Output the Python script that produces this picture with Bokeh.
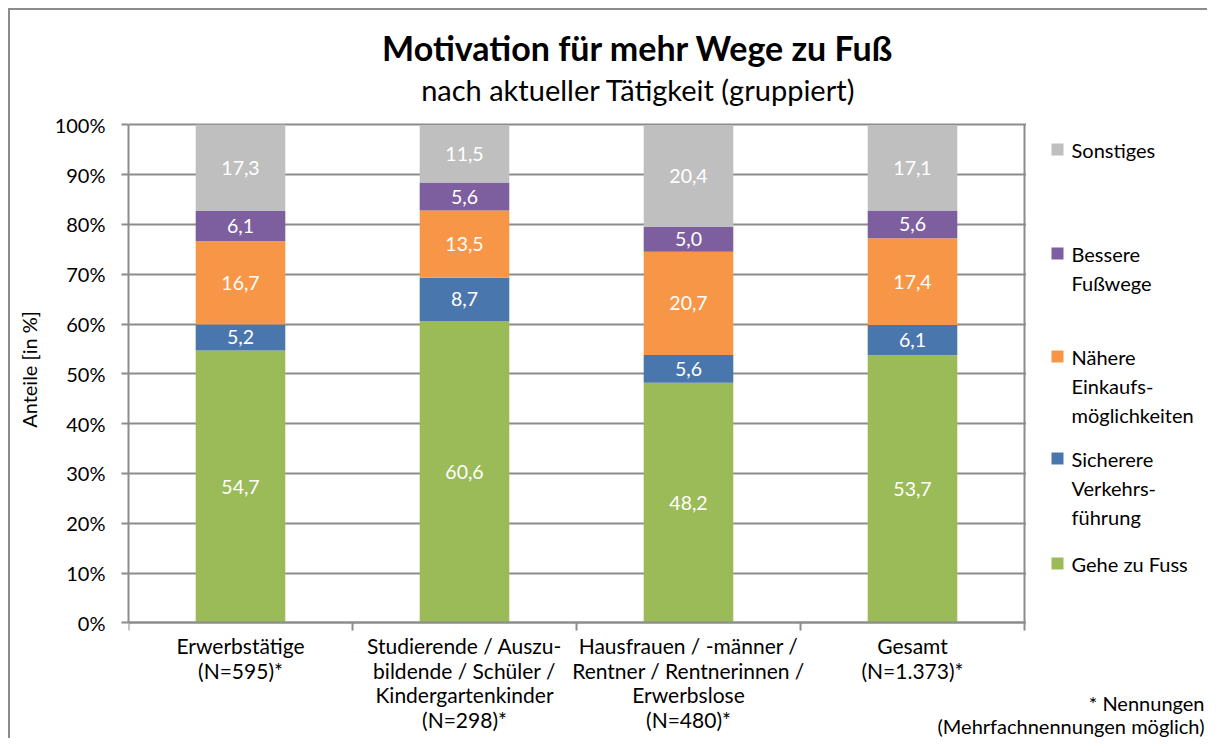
from bokeh.plotting import figure
from bokeh.models import (Range1d, FixedTicker, LinearAxis, Label, BoxAnnotation,
                          ColumnDataSource)
from bokeh.core.properties import value
from bokeh.embed import file_html
from bokeh.resources import INLINE

# ---------------- data ----------------
categories = ["Erwerbstätige", "Studierende", "Hausfrauen", "Gesamt"]
category_labels = [
    "Erwerbstätige\n(N=595)*",
    "Studierende / Auszu-\nbildende / Schüler /\nKindergartenkinder\n(N=298)*",
    "Hausfrauen / -männer /\nRentner / Rentnerinnen /\nErwerbslose\n(N=480)*",
    "Gesamt\n(N=1.373)*",
]
series_keys = ["gehe", "sicherere", "naehere", "bessere", "sonstiges"]
legend_labels = ["Gehe zu Fuss", "Sicherere\nVerkehrs-\nführung",
                 "Nähere\nEinkaufs-\nmöglichkeiten", "Bessere\nFußwege", "Sonstiges"]
gehe = [54.7, 60.6, 48.2, 53.7]
sicherere = [5.2, 8.7, 5.6, 6.1]
naehere = [16.7, 13.5, 20.7, 17.4]
bessere = [6.1, 5.6, 5.0, 5.6]
sonstiges = [17.3, 11.5, 20.4, 17.1]
y_ticks = [0, 10, 20, 30, 40, 50, 60, 70, 80, 90, 100]
y_tick_labels = ["0%", "10%", "20%", "30%", "40%", "50%", "60%", "70%", "80%", "90%", "100%"]
title_text = "Motivation für mehr Wege zu Fuß"
subtitle_text = "nach aktueller Tätigkeit (gruppiert)"
y_label = "Anteile [in %]"
footnote_1 = "* Nennungen"
footnote_2 = "(Mehrfachnennungen möglich)"

colors = ["#9bbb59", "#4a76ae", "#f79646", "#7d5fa0", "#bfbfbf"]
FONT = "Lato"
GREY = "#8c8c8c"

# ---------------- geometry (pixels) ----------------
W, H = 1207, 738
FL = 128.0      # frame left (y axis)
XU = 224.0      # pixels per category
Y0 = 622.3      # pixel row of 0 %
YU = 4.98       # pixels per percent


def X(px):
    return (px - FL) / XU


def Y(py):
    return (Y0 - py) / YU


n = len(categories)
centres = [i + 0.5 for i in range(n)]
bounds = [float(i) for i in range(n + 1)]

values = [gehe, sicherere, naehere, bessere, sonstiges]
data = {"x": centres, "cat": categories}
for k, v in zip(series_keys, values):
    data[k] = v
source = ColumnDataSource(data)

p = figure(x_range=Range1d(0, X(W)), y_range=Range1d(Y(H), Y(0)),
           width=W, height=H, output_backend="svg", toolbar_location=None,
           min_border=0, min_border_left=int(FL), min_border_right=0,
           min_border_top=0, min_border_bottom=0)
p.title.visible = False
p.border_fill_color = None
p.background_fill_color = None
p.outline_line_color = None
p.styles = {"background": "white",
            "box-shadow": "inset 8px 8px 0 0 white, inset 10px 10px 0 0 #8c8c8c"}

# grid (drawn first) and a cover so that grid lines stop at the plot area
yt = FixedTicker(ticks=y_ticks)
p.ygrid.ticker = yt
p.ygrid.grid_line_color = GREY
p.ygrid.grid_line_width = 2
p.xgrid.grid_line_color = None
p.add_layout(BoxAnnotation(left=X(1025.5), bottom=-1.5, top=101.5,
                           fill_color="white", fill_alpha=1.0,
                           line_color=None, level="underlay"))

renderers = p.vbar_stack(series_keys, x="x", width=0.4, fill_color=colors,
                         line_color=None, source=source)

# data labels
cum = [0.0] * n
for k, v in zip(series_keys, values):
    mids = [c + x / 2 for c, x in zip(cum, v)]
    cum = [c + x for c, x in zip(cum, v)]
    lbl = [f"{x:.1f}".replace(".", ",") for x in v]
    s = ColumnDataSource({"x": centres, "mid": mids, "lbl": lbl})
    p.text(x="x", y="mid", text="lbl", source=s, text_color="white",
           text_font=value(FONT), text_font_size="19.5px",
           text_align="center", text_baseline="middle")

# y axis
ya = p.yaxis[0]
ya.ticker = yt
ya.bounds = (0, 100)
ya.major_label_overrides = dict(zip(y_ticks, y_tick_labels))
ya.minor_tick_line_color = None
ya.major_tick_in = 0
ya.major_tick_out = 7
ya.major_tick_line_color = GREY
ya.major_tick_line_width = 2
ya.axis_line_color = GREY
ya.axis_line_width = 2
ya.major_label_standoff = 16
ya.major_label_text_font = FONT
ya.major_label_text_font_size = "20px"
ya.major_label_text_color = "black"
ya.axis_label = y_label
ya.axis_label_text_font = FONT
ya.axis_label_text_font_size = "20px"
ya.axis_label_text_font_style = "normal"
ya.axis_label_text_color = "black"
ya.axis_label_standoff = 11

# right border of the plot area
ra = LinearAxis(fixed_location=n, bounds=(0, 100), ticker=FixedTicker(ticks=[]),
                axis_line_color=GREY, axis_line_width=2,
                major_tick_line_color=None, minor_tick_line_color=None,
                major_label_text_font_size="0px")
p.add_layout(ra, "right")

# x axis at 0 %: labels at category centres, tick marks at category boundaries
xa = p.xaxis[0]
xa.fixed_location = 0
xa.bounds = (0, n)
xa.ticker = FixedTicker(ticks=centres, minor_ticks=bounds)
xa.major_label_overrides = dict(zip(centres, category_labels))
xa.major_tick_line_color = None
xa.major_tick_in = 0
xa.major_tick_out = 0
xa.minor_tick_in = 0
xa.minor_tick_out = 8
xa.minor_tick_line_color = GREY
xa.minor_tick_line_width = 2
xa.axis_line_color = GREY
xa.axis_line_width = 2
xa.major_label_standoff = 2
xa.major_label_text_font = FONT
xa.major_label_text_font_size = "21px"
xa.major_label_text_color = "black"
xa.major_label_text_line_height = 0.99

# legend (top to bottom: reverse stacking order), first text line next to square
legend_rows_px = [149, 253, 356, 458, 563]
leg_colors = list(reversed(colors))
leg_texts = list(reversed(legend_labels))
p.scatter(x=[X(1057)] * len(leg_texts), y=[Y(r) for r in legend_rows_px],
          marker="square", size=12, fill_color=leg_colors, line_color=None)
lx, ly, lt = [], [], []
for r, t in zip(legend_rows_px, leg_texts):
    for j, line in enumerate(t.split("\n")):
        lx.append(X(1071))
        ly.append(Y(r + 29 * j))
        lt.append(line)
p.text(x=lx, y=ly, text=lt, text_font=value(FONT), text_font_size="20px",
       text_color="black", text_align="left", text_baseline="middle")

# titles & footnote
p.add_layout(Label(x=X(637.5), y=Y(47), text=title_text, text_font=FONT,
                   text_font_size="34px", text_font_style="bold",
                   text_color="black", text_align="center",
                   text_baseline="middle"))
p.add_layout(Label(x=X(638), y=Y(89), text=subtitle_text, text_font=FONT,
                   text_font_size="29px", text_color="black",
                   text_align="center", text_baseline="middle"))
p.add_layout(Label(x=X(1204), y=Y(702), text=footnote_1, text_font=FONT,
                   text_font_size="20px", text_color="black",
                   text_align="right", text_baseline="middle"))
p.add_layout(Label(x=X(1204), y=Y(725), text=footnote_2, text_font=FONT,
                   text_font_size="20px", text_color="black",
                   text_align="right", text_baseline="middle"))

open("out.html", "w").write(file_html(p, INLINE))
